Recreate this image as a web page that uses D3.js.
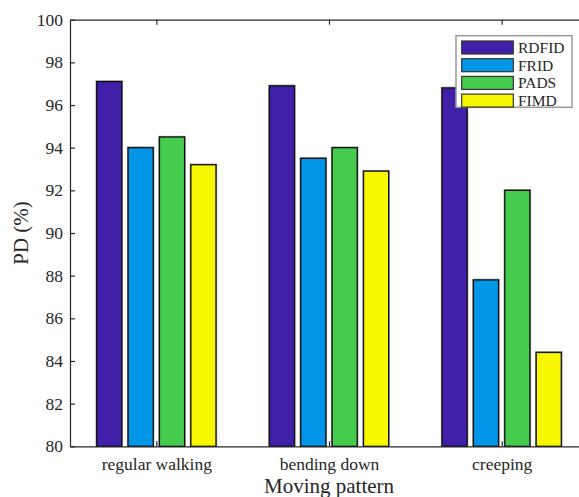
<!DOCTYPE html>
<html>
<head>
<meta charset="utf-8">
<script src="https://cdn.jsdelivr.net/npm/d3@7"></script>
<style>
  body { margin: 0; background: #fff; }
  svg { display: block; }
  text { font-family: "Liberation Serif", "Times New Roman", serif; fill: #262626; }
</style>
</head>
<body>
<div id="chart"></div>
<script>
// data
const categories = ["regular walking", "bending down", "creeping"];
const series = ["RDFID", "FRID", "PADS", "FIMD"];
const RDFID = [97.1, 96.9, 96.8];
const FRID = [94.0, 93.5, 87.8];
const PADS = [94.5, 94.0, 92.0];
const FIMD = [93.2, 92.9, 84.4];
const yTicks = [80, 82, 84, 86, 88, 90, 92, 94, 96, 98, 100];
const colors = ["#4020a8", "#0296e8", "#45cc4f", "#f7f700"];

const values = [RDFID, FRID, PADS, FIMD];

function drawBarChart(container) {
    const W = 579, H = 497;
    // plot box runs past the right edge of the window, as in the reference
    const margin = { top: 19.7, left: 70 };
    const plotRight = 588, plotBottom = 446.3;
    const width = plotRight - margin.left;
    const height = plotBottom - margin.top;

    const svg = d3.select(container)
        .append("svg")
        .attr("width", W)
        .attr("height", H);

    const g = svg.append("g")
        .attr("transform", `translate(${margin.left},${margin.top})`);

    const x = d3.scaleLinear()
        .domain([0.5, 3.5])
        .range([0, width]);

    const y = d3.scaleLinear()
        .domain([80, 100])
        .range([height, 0]);

    // series offsets inside a group, in category units
    const sub = d3.scaleBand()
        .domain(series)
        .range([-0.3636, 0.3636])
        .paddingInner(0.2)
        .paddingOuter(0.1);

    const rows = [];
    categories.forEach((c, i) => {
        series.forEach((s, j) => {
            rows.push({ cat: i + 1, s: s, j: j, v: values[j][i] });
        });
    });

    const bw = x(sub.bandwidth()) - x(0);

    // gray halo under bars
    g.selectAll("rect.halo")
        .data(rows)
        .enter().append("rect")
        .attr("class", "halo")
        .attr("x", d => x(d.cat + sub(d.s)) - 1.2)
        .attr("y", d => y(d.v) - 1.2)
        .attr("width", bw + 2.4)
        .attr("height", d => y(80) - y(d.v) + 1.2)
        .attr("fill", "#9a9a9a");

    g.selectAll("rect.bar")
        .data(rows)
        .enter().append("rect")
        .attr("class", "bar")
        .attr("x", d => x(d.cat + sub(d.s)))
        .attr("y", d => y(d.v))
        .attr("width", bw)
        .attr("height", d => y(80) - y(d.v))
        .attr("fill", d => colors[d.j])
        .attr("stroke", "#111")
        .attr("stroke-width", 1.3);

    // axes: ticks point inward
    const yAxis = d3.axisLeft(y).tickValues(yTicks).tickSizeInner(-5).tickSizeOuter(0).tickPadding(7);
    const gy = g.append("g").call(yAxis);
    gy.selectAll("text").style("font-size", "17.5px").attr("fill", "#262626");

    const xAxis = d3.axisBottom(x).tickValues([1, 2, 3]).tickFormat(d => categories[d - 1])
        .tickSizeInner(-5).tickSizeOuter(0).tickPadding(11);
    const gx = g.append("g").attr("transform", `translate(0,${height})`).call(xAxis);
    gx.selectAll("text").style("font-size", "17.5px").attr("fill", "#262626");

    const xTop = d3.axisTop(x).tickValues([1, 2, 3]).tickFormat("").tickSizeInner(-5).tickSizeOuter(0);
    g.append("g").call(xTop);

    g.selectAll(".domain, .tick line").attr("stroke", "#262626").attr("stroke-width", 1.2);

    // axis labels
    svg.append("text")
        .attr("x", margin.left + x(2))
        .attr("y", 493)
        .attr("text-anchor", "middle")
        .style("font-size", "21px")
        .text("Moving pattern");

    svg.append("text")
        .attr("transform", `translate(28,${margin.top + height / 2}) rotate(-90)`)
        .attr("text-anchor", "middle")
        .style("font-size", "21px")
        .text("PD (%)");

    // legend
    const lg = svg.append("g").attr("transform", "translate(456,35.7)");
    lg.append("rect")
        .attr("width", 116).attr("height", 71.6)
        .attr("fill", "#fff")
        .attr("stroke", "#999").attr("stroke-width", 1.5);
    series.forEach((s, j) => {
        const row = lg.append("g").attr("transform", `translate(0,${5.3 + j * 17.7})`);
        row.append("rect")
            .attr("x", 5.7).attr("width", 51.6).attr("height", 13)
            .attr("fill", colors[j])
            .attr("stroke", "#333").attr("stroke-width", 1.2);
        row.append("text")
            .attr("x", 62).attr("y", 11.8)
            .style("font-size", "15.5px")
            .text(s);
    });
}

drawBarChart(document.getElementById("chart"));
</script>
</body>
</html>
